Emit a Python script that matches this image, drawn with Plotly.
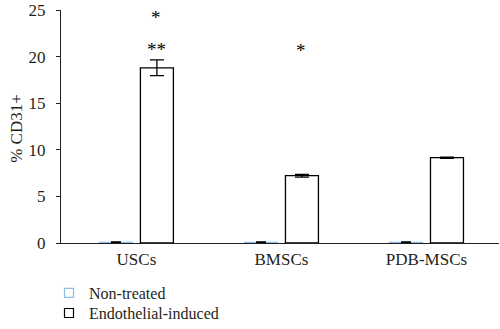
import plotly.graph_objects as go

categories = ["USCs", "BMSCs", "PDB-MSCs"]
non_treated = [0.08, 0.08, 0.08]
non_treated_err = [0.05, 0.05, 0.05]
endothelial = [18.8, 7.22, 9.15]
endothelial_err = [0.85, 0.15, 0.07]
series_names = ["Non-treated", "Endothelial-induced"]
star_cats = ["USCs", "USCs", "BMSCs"]
star_vals = [24.2, 20.8, 20.7]
star_texts = ["*", "**", "*"]
y_ticks = [0, 5, 10, 15, 20, 25]
y_title = "% CD31+"

FONT = "Liberation Serif"
INK = "#231f20"
BLUE = "#8fbde8"

fig = go.Figure()
fig.add_trace(go.Bar(
    x=categories, y=non_treated, name=series_names[0], showlegend=False,
    marker=dict(color="white", line=dict(color=BLUE, width=1.2)),
    error_y=dict(type="data", array=non_treated_err, color="black", thickness=1.3, width=5),
))
fig.add_trace(go.Bar(
    x=categories, y=endothelial, name=series_names[1], showlegend=False,
    marker=dict(color="white", line=dict(color="black", width=1.3)),
    error_y=dict(type="data", array=endothelial_err, color="black", thickness=1.3, width=7),
))
# legend proxies
fig.add_trace(go.Scatter(
    x=[None], y=[None], mode="markers", name=series_names[0], legend="legend",
    marker=dict(symbol="square-open", size=9, color=BLUE, line=dict(width=1.2)),
))
fig.add_trace(go.Scatter(
    x=[None], y=[None], mode="markers", name=series_names[1], legend="legend2",
    marker=dict(symbol="square-open", size=9, color="black", line=dict(width=1.2)),
))

for c, v, t in zip(star_cats, star_vals, star_texts):
    fig.add_annotation(x=c, y=v, xref="x", yref="y", text=t, showarrow=False,
                       xshift=20, font=dict(family=FONT, size=19, color="black"))

fig.add_annotation(x=0, y=0.49, xref="paper", yref="paper", text=y_title,
                   showarrow=False, textangle=-90, xshift=-44, xanchor="center",
                   font=dict(family=FONT, size=17, color=INK))

leg_common = dict(xref="container", yref="container", xanchor="left", yanchor="top",
                  font=dict(family=FONT, size=16, color=INK),
                  itemsizing="trace", itemwidth=30, bgcolor="rgba(0,0,0,0)")

fig.update_layout(
    width=500, height=329,
    margin=dict(l=61, r=1, t=10, b=86, autoexpand=False),
    plot_bgcolor="white", paper_bgcolor="white",
    barmode="group", bargap=0.435, bargroupgap=0.195,
    font=dict(family=FONT, size=17, color=INK),
    legend=dict(x=0.098, y=0.161, **leg_common),
    legend2=dict(x=0.098, y=0.100, **leg_common),
    xaxis=dict(showline=True, linecolor=INK, linewidth=1.3, ticks="",
               range=[-0.52, 2.5],
               tickfont=dict(family=FONT, size=17, color=INK), fixedrange=True),
    yaxis=dict(range=[0, 25], tickvals=y_ticks, showline=True, linecolor=INK,
               linewidth=1.3, ticks="outside", ticklen=4, tickcolor=INK,
               ticklabelstandoff=7,
               showgrid=False, zeroline=False,
               tickfont=dict(family=FONT, size=17, color=INK)),
)

fig.write_html("out.html")
